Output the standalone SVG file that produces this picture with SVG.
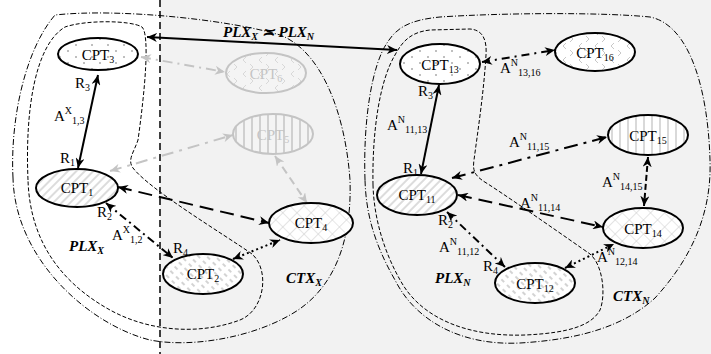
<svg xmlns="http://www.w3.org/2000/svg" width="711" height="354" viewBox="0 0 711 354">
<style>
text{font-family:"Liberation Serif","DejaVu Serif",serif;fill:#000}
.lbl{font-size:15px}
.sb{font-size:10px}
.bi{font-size:15px;font-weight:bold;font-style:italic}
.nd{stroke:#000;stroke-width:2}
.ndg{stroke:#c4c4c4;stroke-width:2}
.gt{fill:#c4c4c4}
.bnd{fill:none;stroke:#000;stroke-width:1}
.c{fill:none;stroke:#000;stroke-width:2;marker-start:url(#ah);marker-end:url(#ah)}
.cg{fill:none;stroke:#c4c4c4;stroke-width:2;marker-start:url(#ahg);marker-end:url(#ahg)}
</style>
<defs>
<marker id="ah" markerUnits="userSpaceOnUse" markerWidth="11" markerHeight="9" refX="10" refY="4.5" orient="auto-start-reverse"><path d="M0,0 L10,4.5 L0,9 L3,4.5 Z" fill="#000"/></marker>
<marker id="ahg" markerUnits="userSpaceOnUse" markerWidth="11" markerHeight="9" refX="10" refY="4.5" orient="auto-start-reverse"><path d="M0,0 L10,4.5 L0,9 L3,4.5 Z" fill="#c4c4c4"/></marker>
<pattern id="pDots" width="16" height="12" patternUnits="userSpaceOnUse"><circle cx="4" cy="3" r="1" fill="#aaa"/><circle cx="12" cy="9" r="1" fill="#aaa"/></pattern>
<pattern id="pChev" width="16" height="14" patternUnits="userSpaceOnUse"><path d="M6,1 L3,4 L6,7 M10,8 L13,11 L10,14" stroke="#c8c8c8" fill="none" stroke-width="1"/></pattern>
<pattern id="pChevG" width="16" height="14" patternUnits="userSpaceOnUse"><path d="M6,1 L3,4 L6,7 M10,8 L13,11 L10,14" stroke="#d8d8d8" fill="none" stroke-width="1"/></pattern>
<pattern id="pDiag" width="6" height="6" patternUnits="userSpaceOnUse" patternTransform="rotate(45)"><line x1="1" y1="0" x2="1" y2="6" stroke="#c4c4c4" stroke-width="1.2"/></pattern>
<pattern id="pDash" width="6" height="8" patternUnits="userSpaceOnUse" patternTransform="rotate(-45)"><line x1="1" y1="0" x2="1" y2="4" stroke="#c4c4c4" stroke-width="1.5"/></pattern>
<pattern id="pCross" width="10" height="10" patternUnits="userSpaceOnUse" patternTransform="rotate(45)"><path d="M0,0 V10 M0,0 H10" stroke="#cfcfcf" stroke-width="1.2" fill="none"/></pattern>
<pattern id="pVert" width="8" height="8" patternUnits="userSpaceOnUse"><line x1="4" y1="0" x2="4" y2="8" stroke="#c4c4c4" stroke-width="1.3"/></pattern>
<pattern id="pVertG" width="8" height="8" patternUnits="userSpaceOnUse"><line x1="4" y1="0" x2="4" y2="8" stroke="#d0d0d0" stroke-width="2"/></pattern>
</defs>

<rect x="0" y="0" width="711" height="354" fill="#fff"/>
<rect x="160" y="0" width="551" height="354" fill="#f2f2f2"/>
<line x1="160" y1="0" x2="160" y2="354" stroke="#000" stroke-width="1.5" stroke-dasharray="7,4"/>

<g id="boundaries">
<path id="ctx-x" class="bnd" stroke-dasharray="6,2,1,2" d="M13,178 C10,120 25,50 55,15 C120,8 230,20 280,35 C320,50 345,110 350,180 C352,240 335,290 290,315 C250,338 190,348 150,340 C90,325 15,260 13,178 Z"/>
<path id="plx-x" class="bnd" stroke-dasharray="4,2" d="M28,180 C25,110 35,45 65,27 C85,20 130,20 142,27 C150,35 145,90 138,140 C134,152 127,160 133,168 C150,190 225,235 252,254 C270,270 265,310 240,320 C200,335 150,332 110,310 C65,285 30,245 28,180 Z"/>
<path id="ctx-n" class="bnd" stroke-dasharray="6,2,1,2" d="M365,180 C363,120 372,65 387,43 C397,27 410,20 440,17 C500,13 600,12 650,17 C690,25 708,90 710,160 C712,215 690,260 655,298 C620,330 570,340 520,343 C460,346 415,320 395,280 C375,245 366,215 365,180 Z"/>
<path id="plx-n" class="bnd" stroke-dasharray="4,2" d="M373,185 C372,130 380,80 395,55 C403,40 412,32 430,30 L470,29 C483,30 487,40 486,55 C484,90 478,130 474,160 C472,172 476,177 488,184 C520,205 570,240 590,254 C603,265 606,295 600,310 C592,325 570,333 525,335 C470,337 425,320 403,285 C385,255 374,220 373,185 Z"/>
</g>

<g id="connectors">
<line class="c" x1="147" y1="37" x2="397" y2="50"/>
<line class="c" x1="98" y1="75" x2="78" y2="168"/>
<line class="c" x1="118" y1="187" x2="269" y2="223" stroke-width="2.5" stroke-dasharray="14,7"/>
<line class="c" x1="106" y1="203" x2="173" y2="258" stroke-dasharray="8,4,2,4"/>
<line class="c" x1="233" y1="259" x2="280" y2="240" stroke-dasharray="2,3"/>
<line class="cg" x1="141" y1="57" x2="225" y2="72" stroke-dasharray="10,5,2,5"/>
<line class="cg" x1="110" y1="171" x2="233" y2="135" stroke-dasharray="12,6,3,6"/>
<line class="cg" x1="275" y1="156" x2="307" y2="203" stroke-dasharray="8,5"/>
<line class="c" x1="482" y1="62" x2="555" y2="50" stroke-dasharray="8,5,2,5"/>
<line class="c" x1="439" y1="85" x2="421" y2="174"/>
<line class="c" x1="452" y1="178" x2="607" y2="137" stroke-dasharray="14,6,3,6"/>
<line class="c" x1="458" y1="195" x2="603" y2="227" stroke-width="2.5" stroke-dasharray="14,7"/>
<line class="c" x1="447" y1="212" x2="505" y2="267" stroke-dasharray="8,4,2,4"/>
<line class="c" x1="565" y1="268" x2="614" y2="244" stroke-dasharray="2,3"/>
<line class="c" x1="648" y1="157" x2="644" y2="206" stroke-dasharray="6,3"/>
</g>

<g id="cpt3"><ellipse cx="98" cy="54" rx="40" ry="16" fill="#fff"/><ellipse class="nd" cx="98" cy="54" rx="40" ry="16" fill="url(#pDots)"/><text class="lbl" x="98" y="60" text-anchor="middle">CPT<tspan class="sb" dy="3">3</tspan></text></g>
<g id="cpt1"><ellipse cx="77" cy="188" rx="41" ry="19" fill="#fff"/><ellipse class="nd" cx="77" cy="188" rx="41" ry="19" fill="url(#pDiag)"/><text class="lbl" x="77" y="193" text-anchor="middle">CPT<tspan class="sb" dy="3">1</tspan></text></g>
<g id="cpt2"><ellipse cx="203" cy="274" rx="40" ry="20" fill="#fff"/><ellipse class="nd" cx="203" cy="274" rx="40" ry="20" fill="url(#pDash)"/><text class="lbl" x="203" y="279" text-anchor="middle">CPT<tspan class="sb" dy="3">2</tspan></text></g>
<g id="cpt4"><ellipse cx="311" cy="223" rx="42" ry="20" fill="#fff"/><ellipse class="nd" cx="311" cy="223" rx="42" ry="20" fill="url(#pCross)"/><text class="lbl" x="311" y="228" text-anchor="middle">CPT<tspan class="sb" dy="3">4</tspan></text></g>
<g id="cpt6"><ellipse cx="266" cy="73" rx="40" ry="20" fill="#f4f4f4"/><ellipse class="ndg" cx="266" cy="73" rx="40" ry="20" fill="url(#pChevG)"/><text class="lbl gt" x="266" y="79" text-anchor="middle">CPT<tspan class="sb" dy="3">6</tspan></text></g>
<g id="cpt5"><ellipse cx="273" cy="134" rx="40" ry="20" fill="#f4f4f4"/><ellipse class="ndg" cx="273" cy="134" rx="40" ry="20" fill="url(#pVertG)"/><text class="lbl gt" x="273" y="140" text-anchor="middle">CPT<tspan class="sb" dy="3">5</tspan></text></g>
<g id="cpt13"><ellipse cx="440" cy="64" rx="40" ry="20" fill="#fff"/><ellipse class="nd" cx="440" cy="64" rx="40" ry="20" fill="url(#pDots)"/><text class="lbl" x="440" y="70" text-anchor="middle">CPT<tspan class="sb" dy="3">13</tspan></text></g>
<g id="cpt16"><ellipse cx="595" cy="52" rx="40" ry="19" fill="#fff"/><ellipse class="nd" cx="595" cy="52" rx="40" ry="19" fill="url(#pChev)"/><text class="lbl" x="595" y="58" text-anchor="middle">CPT<tspan class="sb" dy="3">16</tspan></text></g>
<g id="cpt15"><ellipse cx="648" cy="135" rx="40" ry="20" fill="#fff"/><ellipse class="nd" cx="648" cy="135" rx="40" ry="20" fill="url(#pVert)"/><text class="lbl" x="648" y="141" text-anchor="middle">CPT<tspan class="sb" dy="3">15</tspan></text></g>
<g id="cpt11"><ellipse cx="417" cy="195" rx="40" ry="20" fill="#fff"/><ellipse class="nd" cx="417" cy="195" rx="40" ry="20" fill="url(#pDiag)"/><text class="lbl" x="417" y="200" text-anchor="middle">CPT<tspan class="sb" dy="3">11</tspan></text></g>
<g id="cpt12"><ellipse cx="535" cy="283" rx="40" ry="20" fill="#fff"/><ellipse class="nd" cx="535" cy="283" rx="40" ry="20" fill="url(#pDash)"/><text class="lbl" x="535" y="289" text-anchor="middle">CPT<tspan class="sb" dy="3">12</tspan></text></g>
<g id="cpt14"><ellipse cx="643" cy="228" rx="40" ry="20" fill="#fff"/><ellipse class="nd" cx="643" cy="228" rx="40" ry="20" fill="url(#pCross)"/><text class="lbl" x="643" y="234" text-anchor="middle">CPT<tspan class="sb" dy="3">14</tspan></text></g>

<g id="labels">
<text class="bi" x="223" y="37">PLX<tspan class="sb" dy="3">X</tspan><tspan dy="-3"> ≍ </tspan>PLX<tspan class="sb" dy="3">N</tspan></text>
<text class="lbl" x="75" y="88">R<tspan class="sb" dy="3">3</tspan></text>
<text class="lbl" x="54" y="121">A<tspan class="sb" dy="-7">X</tspan><tspan class="sb" dy="10">1,3</tspan></text>
<text class="lbl" x="60" y="163">R<tspan class="sb" dy="3">1</tspan></text>
<text class="lbl" x="97" y="217">R<tspan class="sb" dy="3">2</tspan></text>
<text class="lbl" x="112" y="240">A<tspan class="sb" dy="-7">X</tspan><tspan class="sb" dy="10">1,2</tspan></text>
<text class="bi" x="69" y="251">PLX<tspan class="sb" dy="3">X</tspan></text>
<text class="lbl" x="173" y="253">R<tspan class="sb" dy="3">4</tspan></text>
<text class="bi" x="286" y="283">CTX<tspan class="sb" dy="3">X</tspan></text>
<text class="lbl" x="418" y="96">R<tspan class="sb" dy="3">3</tspan></text>
<text class="lbl" x="387" y="130">A<tspan class="sb" dy="-7">N</tspan><tspan class="sb" dy="10">11,13</tspan></text>
<text class="lbl" x="403" y="173">R<tspan class="sb" dy="3">1</tspan></text>
<text class="lbl" x="500" y="73">A<tspan class="sb" dy="-7">N</tspan><tspan class="sb" dy="10">13,16</tspan></text>
<text class="lbl" x="509" y="147">A<tspan class="sb" dy="-7">N</tspan><tspan class="sb" dy="10">11,15</tspan></text>
<text class="lbl" x="520" y="208">A<tspan class="sb" dy="-7">N</tspan><tspan class="sb" dy="10">11,14</tspan></text>
<text class="lbl" x="438" y="225">R<tspan class="sb" dy="3">2</tspan></text>
<text class="lbl" x="439" y="252">A<tspan class="sb" dy="-7">N</tspan><tspan class="sb" dy="10">11,12</tspan></text>
<text class="lbl" x="483" y="271">R<tspan class="sb" dy="3">4</tspan></text>
<text class="bi" x="435" y="283">PLX<tspan class="sb" dy="3">N</tspan></text>
<text class="lbl" x="602" y="187">A<tspan class="sb" dy="-7">N</tspan><tspan class="sb" dy="10">14,15</tspan></text>
<text class="lbl" x="597" y="262">A<tspan class="sb" dy="-7">N</tspan><tspan class="sb" dy="10">12,14</tspan></text>
<text class="bi" x="613" y="301">CTX<tspan class="sb" dy="3">N</tspan></text>
</g>
</svg>
